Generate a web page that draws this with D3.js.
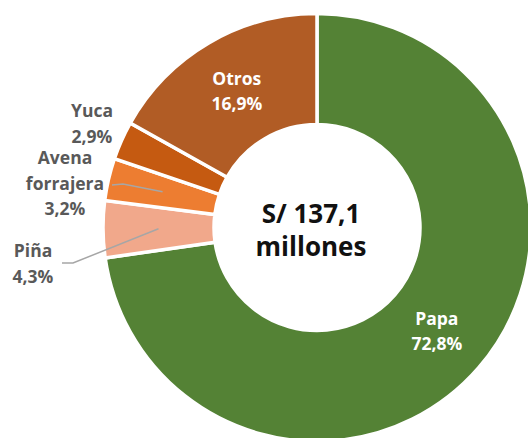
<!DOCTYPE html>
<head>
  <meta charset="utf-8" />
  <script src="https://d3js.org/d3.v7.min.js"></script>
  <title>Valor de producción</title>
</head>
<style>
  body { margin: 0; background: #fff; }
  svg text { font-family: "Open Sans", "Noto Sans", sans-serif; }
</style>
<body>
  <div id="container"></div>
  <script>
    // data, clockwise from 12 o'clock
    var cultivos = ["Papa", "Piña", "Avena forrajera", "Yuca", "Otros"];
    var porcentajes = [72.8, 4.3, 3.2, 2.9, 16.9];
    var colores = ["#548235", "#F1A88B", "#ED7D31", "#C55A11", "#B15C25"];
    var totalTexto = ["S/ 137,1", "millones"];

    var width = 528, height = 438;
    var cx = 317, cy = 227.5;
    var outer = 214, inner = 103;

    // where the outside labels sit (anchor middle, first baseline)
    var labelPos = {
      "Yuca": { x: 92, y: 117, lines: ["Yuca"] },
      "Avena forrajera": { x: 65, y: 164, lines: ["Avena", "forrajera"], leader: [[112, 185], [123, 184]] },
      "Piña": { x: 33, y: 257, lines: ["Piña"], leader: [[62, 263], [73, 263]] }
    };
    var insideLabels = ["Papa", "Otros"];

    var data = cultivos.map(function (c, i) {
      return { name: c, value: porcentajes[i], color: colores[i] };
    });

    var svg = d3.select("#container").append("svg")
      .attr("width", width).attr("height", height);

    var g = svg.append("g").attr("transform", "translate(" + cx + "," + cy + ")");

    var pie = d3.pie().sort(null).value(function (d) { return d.value; });
    var arc = d3.arc().innerRadius(inner).outerRadius(outer);
    var arcs = pie(data);

    g.selectAll("path.slice")
      .data(arcs)
      .enter()
      .append("path")
      .attr("class", "slice")
      .attr("d", arc)
      .style("fill", function (d) { return d.data.color; })
      .style("stroke", "#fff")
      .style("stroke-width", 3.5)
      .style("stroke-linejoin", "miter");

    var fmt = function (v) { return v.toFixed(1).replace(".", ",") + "%"; };

    // inside labels at the centroid
    arcs.filter(function (d) { return insideLabels.includes(d.data.name); })
      .forEach(function (d) {
        var c = arc.centroid(d);
        var t = g.append("text")
          .attr("text-anchor", "middle")
          .style("font-size", "17.5px")
          .style("font-weight", 700)
          .style("fill", "#fff");
        t.append("tspan").attr("x", c[0]).attr("y", c[1] - 6).text(d.data.name);
        t.append("tspan").attr("x", c[0]).attr("y", c[1] + 19).text(fmt(d.data.value));
      });

    // outside labels with leader lines
    arcs.filter(function (d) { return labelPos[d.data.name]; })
      .forEach(function (d) {
        var p = labelPos[d.data.name];
        var c = arc.centroid(d);
        if (p.leader) {
          var pts = p.leader.map(function (q) { return [q[0] - cx, q[1] - cy]; });
          pts.push(c);
          g.append("path")
            .attr("d", d3.line()(pts))
            .style("fill", "none")
            .style("stroke", "#A6A6A6")
            .style("stroke-width", 1.5);
        }
        var t = svg.append("text")
          .attr("text-anchor", "middle")
          .style("font-size", "17.5px")
          .style("font-weight", 700)
          .style("fill", "#595959");
        var lines = p.lines.concat([fmt(d.data.value)]);
        lines.forEach(function (l, i) {
          t.append("tspan").attr("x", p.x).attr("y", p.y + i * 25.5).text(l);
        });
      });

    // total in the hole
    var tt = g.append("text")
      .attr("text-anchor", "middle")
      .style("font-size", "26px")
      .style("font-weight", 700)
      .style("fill", "#111");
    totalTexto.forEach(function (l, i) {
      tt.append("tspan").attr("x", -6).attr("y", -5 + i * 33).text(l);
    });
  </script>
</body>
